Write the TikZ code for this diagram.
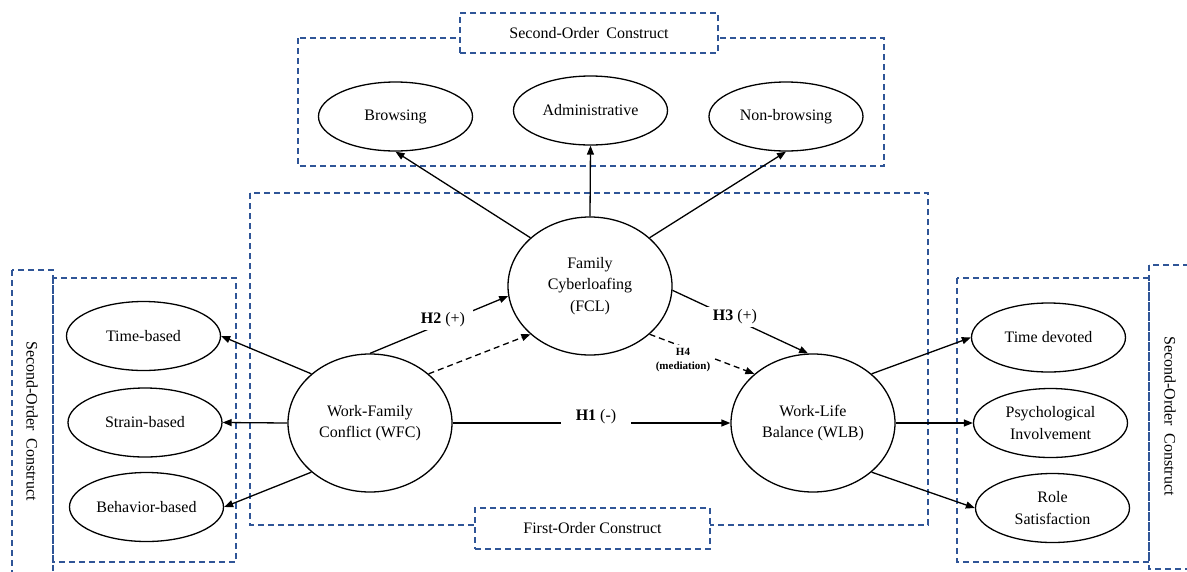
\documentclass[tikz,border=0pt]{standalone}
\usepackage{fontspec}
\setmainfont{Liberation Serif}
\usetikzlibrary{arrows.meta,shapes.geometric}
\definecolor{dblue}{RGB}{47,85,151}
\begin{document}
\begin{tikzpicture}[x=1pt,y=-1pt,
  every node/.style={font=\fontsize{16}{21.5}\selectfont},
  sub/.style={ellipse,draw,line width=1.3pt,minimum width=154pt,minimum height=69pt,inner sep=0pt,align=center},
  main/.style={ellipse,draw,line width=1.3pt,minimum width=164pt,minimum height=138pt,inner sep=0pt,align=center},
  grp/.style={draw=dblue,line width=1.2pt,dash pattern=on 6pt off 4pt},
  lbl/.style={draw=dblue,line width=1.2pt,dash pattern=on 6pt off 4pt,fill=white,inner sep=0pt},
  arr/.style={line width=1.3pt,-{Triangle[length=9pt,width=7pt]}},
  dsh/.style={dash pattern=on 6pt off 4pt},
  hlab/.style={fill=white,inner ysep=3pt,inner xsep=8pt},
]
\useasboundingbox (0,0) rectangle (1187,571);

% group boxes
\draw[grp] (12,270) rectangle (53,590);
\draw[grp] (53,278) rectangle (236,562);
\draw[grp] (957,278) rectangle (1149,562);
\draw[grp] (1149,265) rectangle (1205,569);
\draw[grp] (298,38) rectangle (884,166);
\draw[grp] (250,193) rectangle (928,525);

\node[lbl,minimum width=258pt,minimum height=40pt] (toplbl) at (589,33) {Second-Order\hspace{0.45em}Construct};
\node[lbl,minimum width=235pt,minimum height=41pt] (botlbl) at (592.5,528.5) {First-Order Construct};
\node[rotate=-90] (leftlbl) at (32,421) {Second-Order\hspace{0.45em}Construct};
\node[rotate=-90] (rightlbl) at (1170,416) {Second-Order\hspace{0.45em}Construct};

% sub-dimension nodes
\node[sub] (tb) at (143.5,336) {Time-based};
\node[sub] (sb) at (145,422.5) {Strain-based};
\node[sub] (bb) at (146.5,507) {Behavior-based};
\node[sub] (td) at (1048.5,337.5) {Time devoted};
\node[sub] (pi) at (1050.5,423) {Psychological\\Involvement};
\node[sub] (rs) at (1052.5,508) {Role\\Satisfaction};
\node[sub] (br) at (395.5,116.5) {Browsing};
\node[sub] (ad) at (590.5,110.5) {Administrative};
\node[sub] (nb) at (786,116.5) {Non-browsing};

% main constructs
\node[main] (wfc) at (370,423) {Work-Family\\Conflict (WFC)};
\node[main] (fcl) at (590,286) {Family\\Cyberloafing\\(FCL)};
\node[main] (wlb) at (813,423) {Work-Life\\Balance (WLB)};

% connectors
\draw[arr] (wfc.140) -- (tb.east);
\draw[arr] (wfc.west) -- (sb.east);
\draw[arr] (wfc.220) -- (bb.east);
\draw[arr] (fcl.141) -- (br.south);
\draw[arr] (fcl.north) -- (ad.south);
\draw[arr] (fcl.39) -- (nb.south);
\draw[arr] (wfc.north) -- (fcl.187);
\draw[arr,dsh] (wfc.40) -- (fcl.219);
\draw[arr] (fcl.-3) -- (wlb.94);
\draw[arr,dsh] (fcl.-39) -- (wlb.140);
\draw[arr] (wfc.east) -- (wlb.west);
\draw[arr] (wlb.40) -- (td.west);
\draw[arr] (wlb.east) -- (pi.west);
\draw[arr] (wlb.-40) -- (rs.west);

% hypothesis labels
\node[hlab] (h2) at (443,320) {\textbf{H2} (+)};
\node[hlab] (h3) at (735,317) {\textbf{H3} (+)};
\node[hlab,inner xsep=15pt] (h1) at (596,417) {\textbf{H1} (-)};
\node[hlab,inner xsep=4pt,align=center,font=\fontsize{11}{14}\selectfont\bfseries] (h4) at (683,360) {H4\\(mediation)};
\end{tikzpicture}
\end{document}
